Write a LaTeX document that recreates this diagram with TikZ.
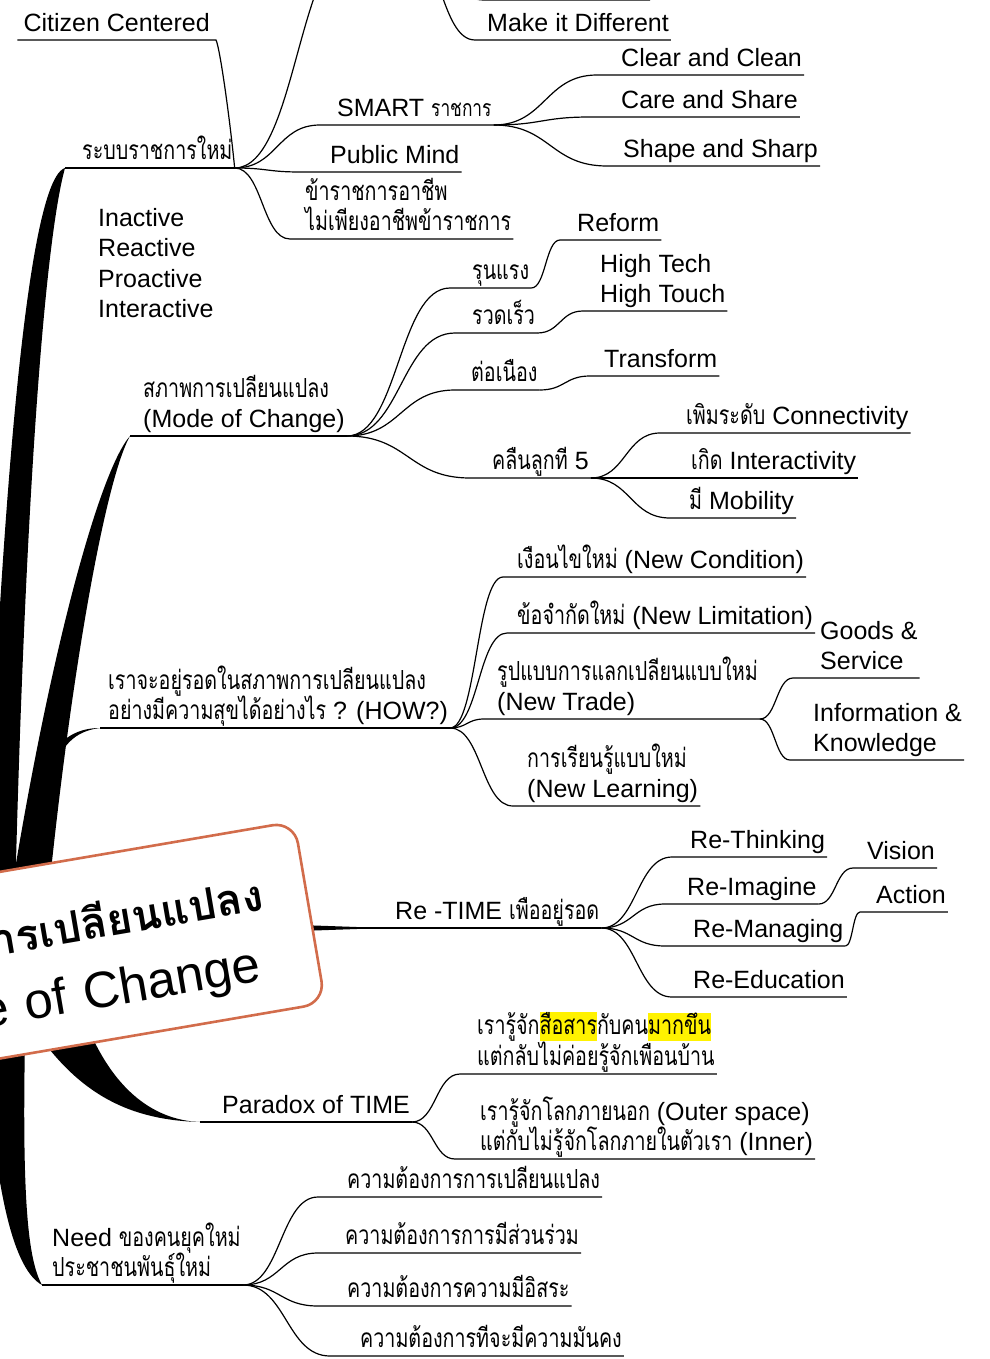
\documentclass[tikz,border=0pt]{standalone}
\usepackage{fontspec}
\setmainfont{Liberation Sans}
\newfontfamily\tfont[Script=Thai,Scale=1.05,FakeStretch=0.75]{Loma}
\newfontfamily\ttitle[Script=Thai,Scale=0.79]{Loma}
\usetikzlibrary{positioning,calc}
\pgfdeclarelayer{background}
\pgfsetlayers{background,main}
\definecolor{titleline}{RGB}{210,108,75}
\newcommand\hilite[1]{{\setlength{\fboxsep}{0pt}\colorbox{yellow}{\rule[-7pt]{0pt}{27pt}#1}}}
\tikzset{
  topic/.style={anchor=south west, inner xsep=2pt, inner ysep=3pt, text depth=5pt, align=left},
  thai/.style={font=\fontsize{25}{30.5}\selectfont\tfont},
  link/.style={line width=1.2pt},
  trunk/.style={fill=black},
  branch/.style={to path={let \p1=(\tikztostart), \p2=(\tikztotarget) in
      .. controls ({(\x1+\x2)/2},\y1) and ({(\x1+\x2)/2},\y2) .. (\tikztotarget)}},
  titlebox/.style={draw=titleline, line width=2.6pt, fill=white, rounded corners=22pt,
      minimum height=184pt, text width=460pt, inner xsep=43pt, align=right,
      font=\fontsize{51}{69}\selectfont},
}

\begin{document}
\begin{tikzpicture}[x=1pt, y=-1pt, font=\fontsize{25}{30.5}\selectfont]
\useasboundingbox (0,0) rectangle (989,1359);

% central topic
\node[titlebox, rotate=9.7, anchor=east] (root) at (311,912)
  {\rule{0pt}{60pt}{\fontsize{55}{69}\selectfont\ttitle\bfseries การเปลียนแปลง}\\Mode of Change\kern15pt};

% ระบบราชการใหม่
\coordinate (sysfoot) at (65,168);
\node[right=15pt of sysfoot, topic, thai] (sys) {ระบบราชการใหม่};
\node[topic, anchor=south east, inner xsep=6pt] (citizen) at (216,40) {Citizen Centered};
\coordinate (upperfoot) at (360,-60);
\coordinate (upperend) at (405,-60);
\coordinate (makefoot) at (475,40);
\node[right=10pt of makefoot, topic] (make) {Make it Different};
\coordinate (toplinefoot) at (484,0);
\coordinate (toplineend) at (650,0);
\coordinate (smartfoot) at (320,125);
\node[right=15pt of smartfoot, topic] (smart) {SMART {\tfont\fontsize{22}{30}\selectfont ราชการ}};
\coordinate (clearfoot) at (597,75);
\node[right=22pt of clearfoot, topic] (clear) {Clear and Clean};
\coordinate (carefoot) at (590,117);
\node[right=29pt of carefoot, topic] (care) {Care and Share};
\coordinate (shapefoot) at (607,166);
\node[right=14pt of shapefoot, topic] (shape) {Shape and Sharp};
\coordinate (pubfoot) at (300,172);
\node[right=28pt of pubfoot, topic] (pub) {Public Mind};
\coordinate (careerfoot) at (290,239);
\node[right=13pt of careerfoot, topic, thai] (career) {ข้าราชการอาชีพ\\ไม่เพียงอาชีพข้าราชการ};

\node[anchor=north west, inner sep=0pt, align=left] (modes) at (98,208)
  {Inactive\\ Reactive\\Proactive\\Interactive};

% สภาพการเปลียนแปลง
\coordinate (modefoot) at (130,436);
\node[right=11pt of modefoot, topic] (mode) {{\tfont สภาพการเปลียนแปลง}\\(Mode of Change)};
\coordinate (violentfoot) at (450,288);
\node[right=20pt of violentfoot, topic, thai] (violent) {รุนแรง};
\coordinate (reformfoot) at (560,240);
\node[right=15pt of reformfoot, topic] (reform) {Reform};
\coordinate (fastfoot) at (455,333);
\node[right=15pt of fastfoot, topic, thai] (fast) {รวดเร็ว};
\coordinate (hitechfoot) at (583,311);
\node[right=15pt of hitechfoot, topic] (hitech) {High Tech\\High Touch};
\coordinate (continfoot) at (455,390);
\node[right=14pt of continfoot, topic, thai] (contin) {ต่อเนือง};
\coordinate (transfoot) at (590,376);
\node[right=12pt of transfoot, topic] (trans) {Transform};
\coordinate (wavefoot) at (470,478);
\node[right=20pt of wavefoot, topic] (wave) {{\tfont คลืนลูกที} 5};
\coordinate (connectfoot) at (660,433);
\node[right=24pt of connectfoot, topic] (connect) {{\tfont เพิมระดับ} Connectivity};
\coordinate (interactfoot) at (620,478);
\node[right=69pt of interactfoot, topic] (interact) {{\tfont เกิด} Interactivity};
\coordinate (mobilityfoot) at (670,518);
\node[right=17pt of mobilityfoot, topic] (mobility) {{\tfont มี} Mobility};

% เราจะอยู่รอด (HOW?)
\coordinate (howfoot) at (100,728);
\node[right=6pt of howfoot, topic] (how)
  {{\tfont เราจะอยู่รอดในสภาพการเปลียนแปลง}\\{\tfont อย่างมีความสุขได้อย่างไร} ? (HOW?)};
\coordinate (condfoot) at (503,577);
\node[right=12pt of condfoot, topic] (cond) {{\tfont เงือนไขใหม่} (New Condition)};
\coordinate (limitfoot) at (507,633);
\node[right=8pt of limitfoot, topic] (limit) {{\tfont ข้อจำกัดใหม่} (New Limitation)};
\coordinate (tradefoot) at (484,719);
\node[right=11pt of tradefoot, topic] (trade) {{\tfont รูปแบบการแลกเปลียนแบบใหม่}\\(New Trade)};
\coordinate (goodsfoot) at (793,678);
\node[right=25pt of goodsfoot, topic] (goods) {Goods \&\\Service};
\coordinate (infofoot) at (790,760);
\node[right=21pt of infofoot, topic] (info) {Information \&\\Knowledge};
\coordinate (learnfoot) at (513,806);
\node[right=12pt of learnfoot, topic] (learn) {{\tfont การเรียนรู้แบบใหม่}\\(New Learning)};

% Re -TIME
\coordinate (retimefoot) at (300,928);
\node[right=93pt of retimefoot, topic] (retime) {Re -TIME {\tfont เพืออยู่รอด}};
\coordinate (rethinkfoot) at (672,857);
\node[right=16pt of rethinkfoot, topic] (rethink) {Re-Thinking};
\coordinate (reimaginefoot) at (665,904);
\node[right=20pt of reimaginefoot, topic] (reimagine) {Re-Imagine};
\coordinate (visionfoot) at (853,868);
\node[right=12pt of visionfoot, topic] (vision) {Vision};
\coordinate (remanagefoot) at (665,946);
\node[right=26pt of remanagefoot, topic] (remanage) {Re-Managing};
\coordinate (actionfoot) at (860,912);
\node[right=14pt of actionfoot, topic] (action) {Action};
\coordinate (reedufoot) at (672,997);
\node[right=19pt of reedufoot, topic] (reedu) {Re-Education};

% Paradox of TIME
\coordinate (paradoxfoot) at (200,1122);
\node[right=20pt of paradoxfoot, topic] (paradox) {Paradox of TIME};
\coordinate (mediafoot) at (460,1074);
\node[right=15pt of mediafoot, topic, thai] (media)
  {เรารู้จัก\hilite{สือสาร}กับคน\hilite{มากขึน}\\แต่กลับไม่ค่อยรู้จักเพือนบ้าน};
\coordinate (outerfoot) at (455,1159);
\node[right=23pt of outerfoot, topic] (outer)
  {{\tfont เรารู้จักโลกภายนอก} (Outer space)\\{\tfont แต่กับไม่รู้จักโลกภายในตัวเรา} (Inner)};

% Need
\coordinate (needfoot) at (42,1285);
\node[right=8pt of needfoot, topic] (need) {Need {\tfont ของคนยุคใหม่}\\{\tfont ประชาชนพันธุ์ใหม่}};
\coordinate (needafoot) at (318,1197);
\node[right=27pt of needafoot, topic, thai] (needa) {ความต้องการการเปลียนแปลง};
\coordinate (needbfoot) at (318,1253);
\node[right=25pt of needbfoot, topic, thai] (needb) {ความต้องการการมีส่วนร่วม};
\coordinate (needcfoot) at (318,1306);
\node[right=27pt of needcfoot, topic, thai] (needc) {ความต้องการความมีอิสระ};
\coordinate (needdfoot) at (330,1356);
\node[right=28pt of needdfoot, topic, thai] (needd) {ความต้องการทีจะมีความมันคง};

% thick branches from the centre
\begin{pgfonlayer}{background}
\fill[trunk] (sysfoot) .. controls (42,175) and (10,300) .. (-15,900) -- (15,900)
  .. controls (25,500) and (45,240) .. (sysfoot) -- cycle;
\fill[trunk] (modefoot) .. controls (100,470) and (50,650) .. (10,900) -- (48,900)
  .. controls (70,680) and (105,480) .. (modefoot) -- cycle;
\fill[trunk] (40,775) .. controls (55,740) and (75,728) .. (howfoot)
  .. controls (75,731) and (60,745) .. (50,780) -- cycle;
\fill[trunk] (85,1020) .. controls (110,1085) and (150,1120) .. (paradoxfoot)
  .. controls (130,1120) and (80,1095) .. (35,1030) -- cycle;
\fill[trunk] (-15,1040) .. controls (-5,1200) and (15,1270) .. (needfoot)
  .. controls (28,1260) and (22,1200) .. (25,1040) -- cycle;
\fill[trunk] ([yshift=3pt]retimefoot) -- ([xshift=85pt]retimefoot) -- ([yshift=-3pt]retimefoot) -- cycle;
\draw[link] (retimefoot) -- (retime.south east);
\end{pgfonlayer}

% underlines and links
\draw[link] (sysfoot) -- (sys.south east);
\draw[link] (sys.south east) .. controls (230,120) and (220,48) .. (citizen.south east) -- (citizen.south west);
\draw[link] (sys.south east) to[branch] (upperfoot) -- (upperend);
\draw[link] (upperend) to[branch] (makefoot) -- (make.south east);
\draw[link] (upperend) to[branch] (toplinefoot) -- (toplineend);
\draw[link] (sys.south east) to[branch] (smartfoot) -- (smart.south east);
\draw[link] (smart.south east) to[branch] (clearfoot) -- (clear.south east);
\draw[link] (smart.south east) to[branch] (carefoot) -- (care.south east);
\draw[link] (smart.south east) to[branch] (shapefoot) -- (shape.south east);
\draw[link] (sys.south east) to[branch] (pubfoot) -- (pub.south east);
\draw[link] (sys.south east) to[branch] (careerfoot) -- (career.south east);

\draw[link] (modefoot) -- (mode.south east);
\draw[link] (mode.south east) to[branch] (violentfoot) -- (violent.south east);
\draw[link] (violent.south east) to[branch] (reformfoot) -- (reform.south east);
\draw[link] (mode.south east) to[branch] (fastfoot) -- (fast.south east);
\draw[link] (fast.south east) to[branch] (hitechfoot) -- (hitech.south east);
\draw[link] (mode.south east) to[branch] (continfoot) -- (contin.south east);
\draw[link] (contin.south east) to[branch] (transfoot) -- (trans.south east);
\draw[link] (mode.south east) to[branch] (wavefoot) -- (wave.south east);
\draw[link] (wave.south east) to[branch] (connectfoot) -- (connect.south east);
\draw[link] (wave.south east) to[branch] (interactfoot) -- (interact.south east);
\draw[link] (wave.south east) to[branch] (mobilityfoot) -- (mobility.south east);

\draw[link] (howfoot) -- (how.south east);
\draw[link] (how.south east) to[branch] (condfoot) -- (cond.south east);
\draw[link] (how.south east) to[branch] (limitfoot) -- (limit.south east);
\draw[link] (how.south east) to[branch] (tradefoot) -- (trade.south east);
\draw[link] (trade.south east) to[branch] (goodsfoot) -- (goods.south east);
\draw[link] (trade.south east) to[branch] (infofoot) -- (info.south east);
\draw[link] (how.south east) to[branch] (learnfoot) -- (learn.south east);

\draw[link] (retime.south east) to[branch] (rethinkfoot) -- (rethink.south east);
\draw[link] (retime.south east) to[branch] (reimaginefoot) -- (reimagine.south east);
\draw[link] (reimagine.south east) to[branch] (visionfoot) -- (vision.south east);
\draw[link] (retime.south east) to[branch] (remanagefoot) -- (remanage.south east);
\draw[link] (remanage.south east) to[branch] (actionfoot) -- (action.south east);
\draw[link] (retime.south east) to[branch] (reedufoot) -- (reedu.south east);

\draw[link] (paradoxfoot) -- (paradox.south east);
\draw[link] (paradox.south east) to[branch] (mediafoot) -- (media.south east);
\draw[link] (paradox.south east) to[branch] (outerfoot) -- (outer.south east);

\draw[link] (needfoot) -- (need.south east);
\draw[link] (need.south east) to[branch] (needafoot) -- (needa.south east);
\draw[link] (need.south east) to[branch] (needbfoot) -- (needb.south east);
\draw[link] (need.south east) to[branch] (needcfoot) -- (needc.south east);
\draw[link] (need.south east) to[branch] (needdfoot) -- (needd.south east);
\end{tikzpicture}
\end{document}
